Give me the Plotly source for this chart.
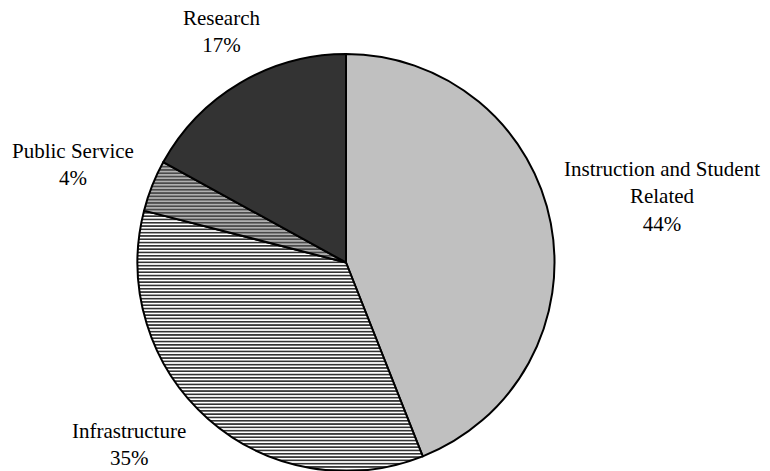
import plotly.graph_objects as go

# Share of expenditures by function
categories = ["Instruction and Student Related", "Infrastructure", "Public Service", "Research"]
label_text = ["Instruction and Student<br>Related", "Infrastructure", "Public Service", "Research"]
values = [44, 35, 4, 17]

fill_colors = ["#c0c0c0", "#ffffff", "#b0b0b0", "#333333"]
hatch_shapes = ["", "-", "-", ""]
hatch_colors = ["#c0c0c0", "#000000", "#303030", "#333333"]

W, H = 770, 471

fig = go.Figure(
    go.Pie(
        labels=categories,
        values=values,
        sort=False,
        direction="clockwise",
        rotation=0,
        textinfo="none",
        hoverinfo="label+percent",
        showlegend=False,
        domain=dict(x=[137.5 / W, 554.5 / W], y=[0, 1 - 54 / H]),
        marker=dict(
            colors=fill_colors,
            line=dict(color="#000000", width=2),
            pattern=dict(
                shape=hatch_shapes,
                fgcolor=hatch_colors,
                bgcolor=fill_colors,
                size=3.3,
                solidity=0.4,
            ),
        ),
    )
)

# Label positions (pixel centres) for each slice caption
label_pos = [(662, 196), (129, 444), (73, 165), (221, 32)]
total = sum(values)
for txt, v, (px, py) in zip(label_text, values, label_pos):
    fig.add_annotation(
        x=px / W,
        y=1 - py / H,
        xref="paper",
        yref="paper",
        text=f"{txt}<br>{round(100 * v / total)}%",
        showarrow=False,
        xanchor="center",
        yanchor="middle",
        align="center",
        font=dict(family="Liberation Serif", size=21, color="#000000"),
    )

fig.update_layout(
    width=W,
    height=H,
    margin=dict(l=0, r=0, t=0, b=0),
    paper_bgcolor="#ffffff",
    plot_bgcolor="#ffffff",
    font=dict(family="Liberation Serif"),
)

fig.write_html("out.html")
